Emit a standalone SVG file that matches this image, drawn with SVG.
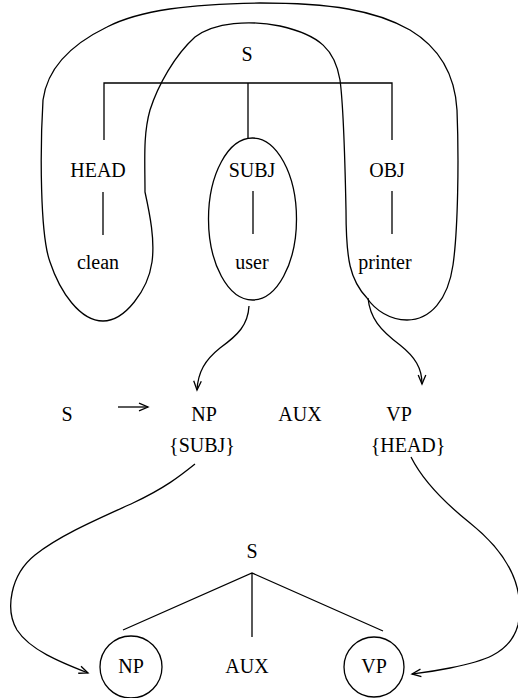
<svg xmlns="http://www.w3.org/2000/svg" width="518" height="698" viewBox="0 0 518 698" font-family="'Liberation Serif', 'Times New Roman', Times, serif">
<style>
text{font-family:'Liberation Serif','Times New Roman',Times,serif;font-size:20px;fill:#000;text-anchor:middle}
.l{stroke:#000;stroke-width:1.3;fill:none}
</style>
<defs>
<marker id="ah" markerUnits="userSpaceOnUse" markerWidth="12" markerHeight="10" viewBox="-10 -5 12 10" refX="0" refY="0" orient="auto">
<path d="M-9,-3.8 L0,0 L-9,3.8" fill="none" stroke="#000" stroke-width="1.3"/>
</marker>
</defs>
<rect width="518" height="698" fill="#fff"/>
<g id="tree-top">
<path class="l" d="M104,140 V83 H392 V140 M248,83 V139"/>
<path class="l" d="M103,192 V235 M253,191 V234 M392,191 V234"/>
</g>
<g id="S-top"><text x="247" y="61">S</text></g>
<g id="HEAD"><text x="98" y="177">HEAD</text></g>
<g id="SUBJ"><text x="252" y="177">SUBJ</text></g>
<g id="OBJ"><text x="387" y="177">OBJ</text></g>
<g id="clean"><text x="98" y="269">clean</text></g>
<g id="user"><text x="252" y="269">user</text></g>
<g id="printer"><text x="385" y="269">printer</text></g>
<g id="subj-ellipse"><ellipse class="l" cx="252.5" cy="219" rx="44" ry="81"/></g>
<g id="head-obj-loop"><path class="l" d="M145,192 C150,215 155,240 152,262 C148,290 125,321 103,321 C80,321 60,292 50,262 C40,235 40,150 43,100 C47,70 70,45 107,27 C140,10 190,4 260,3 C330,3 375,10 410,30 C440,48 455,75 457,110 C459,160 458,230 453,265 C448,300 430,320 407,320 C390,320 375,310 367,298 C350,280 346,260 346,210 C345,160 344,110 340,80 C335,50 320,35 280,26 C250,20 215,22 195,37 C175,55 158,85 150,110 C143,135 145,160 145,192 Z"/></g>
<g id="rule-S"><text x="67" y="421">S</text></g>
<g id="rule-NP"><text x="204" y="421">NP</text><text x="202" y="452">{SUBJ}</text></g>
<g id="rule-AUX"><text x="300" y="421">AUX</text></g>
<g id="rule-VP"><text x="399" y="421">VP</text><text x="408" y="452">{HEAD}</text></g>
<g id="S-bottom"><text x="252" y="558">S</text></g>
<g id="tree-bottom"><path class="l" d="M123,630 L252,573 L383,631 M252,573 V637"/></g>
<g id="NP-bottom"><circle class="l" cx="131" cy="667" r="31"/><text x="131" y="673">NP</text></g>
<g id="AUX-bottom"><text x="247" y="673">AUX</text></g>
<g id="VP-bottom"><circle class="l" cx="374" cy="667" r="30"/><text x="374" y="673">VP</text></g>
<g id="connectors">
<path class="l" marker-end="url(#ah)" d="M249,306 C248,325 238,335 220,348 C205,360 198,372 197,390"/>
<path class="l" marker-end="url(#ah)" d="M368,298 C370,318 380,330 400,345 C415,357 422,368 422,384"/>
<path class="l" marker-end="url(#ah)" d="M118,407 H148"/>
<path class="l" marker-end="url(#ah)" d="M195,464 C180,476 165,488 133,503 C100,518 60,535 35,555 C10,575 5,610 17,630 C30,650 60,662 88,673"/>
<path class="l" marker-end="url(#ah)" d="M411,457 C420,475 435,495 470,523 C510,555 525,590 518,625 C510,655 480,662 450,668 C430,672 420,673 412,674"/>
</g>
</svg>
